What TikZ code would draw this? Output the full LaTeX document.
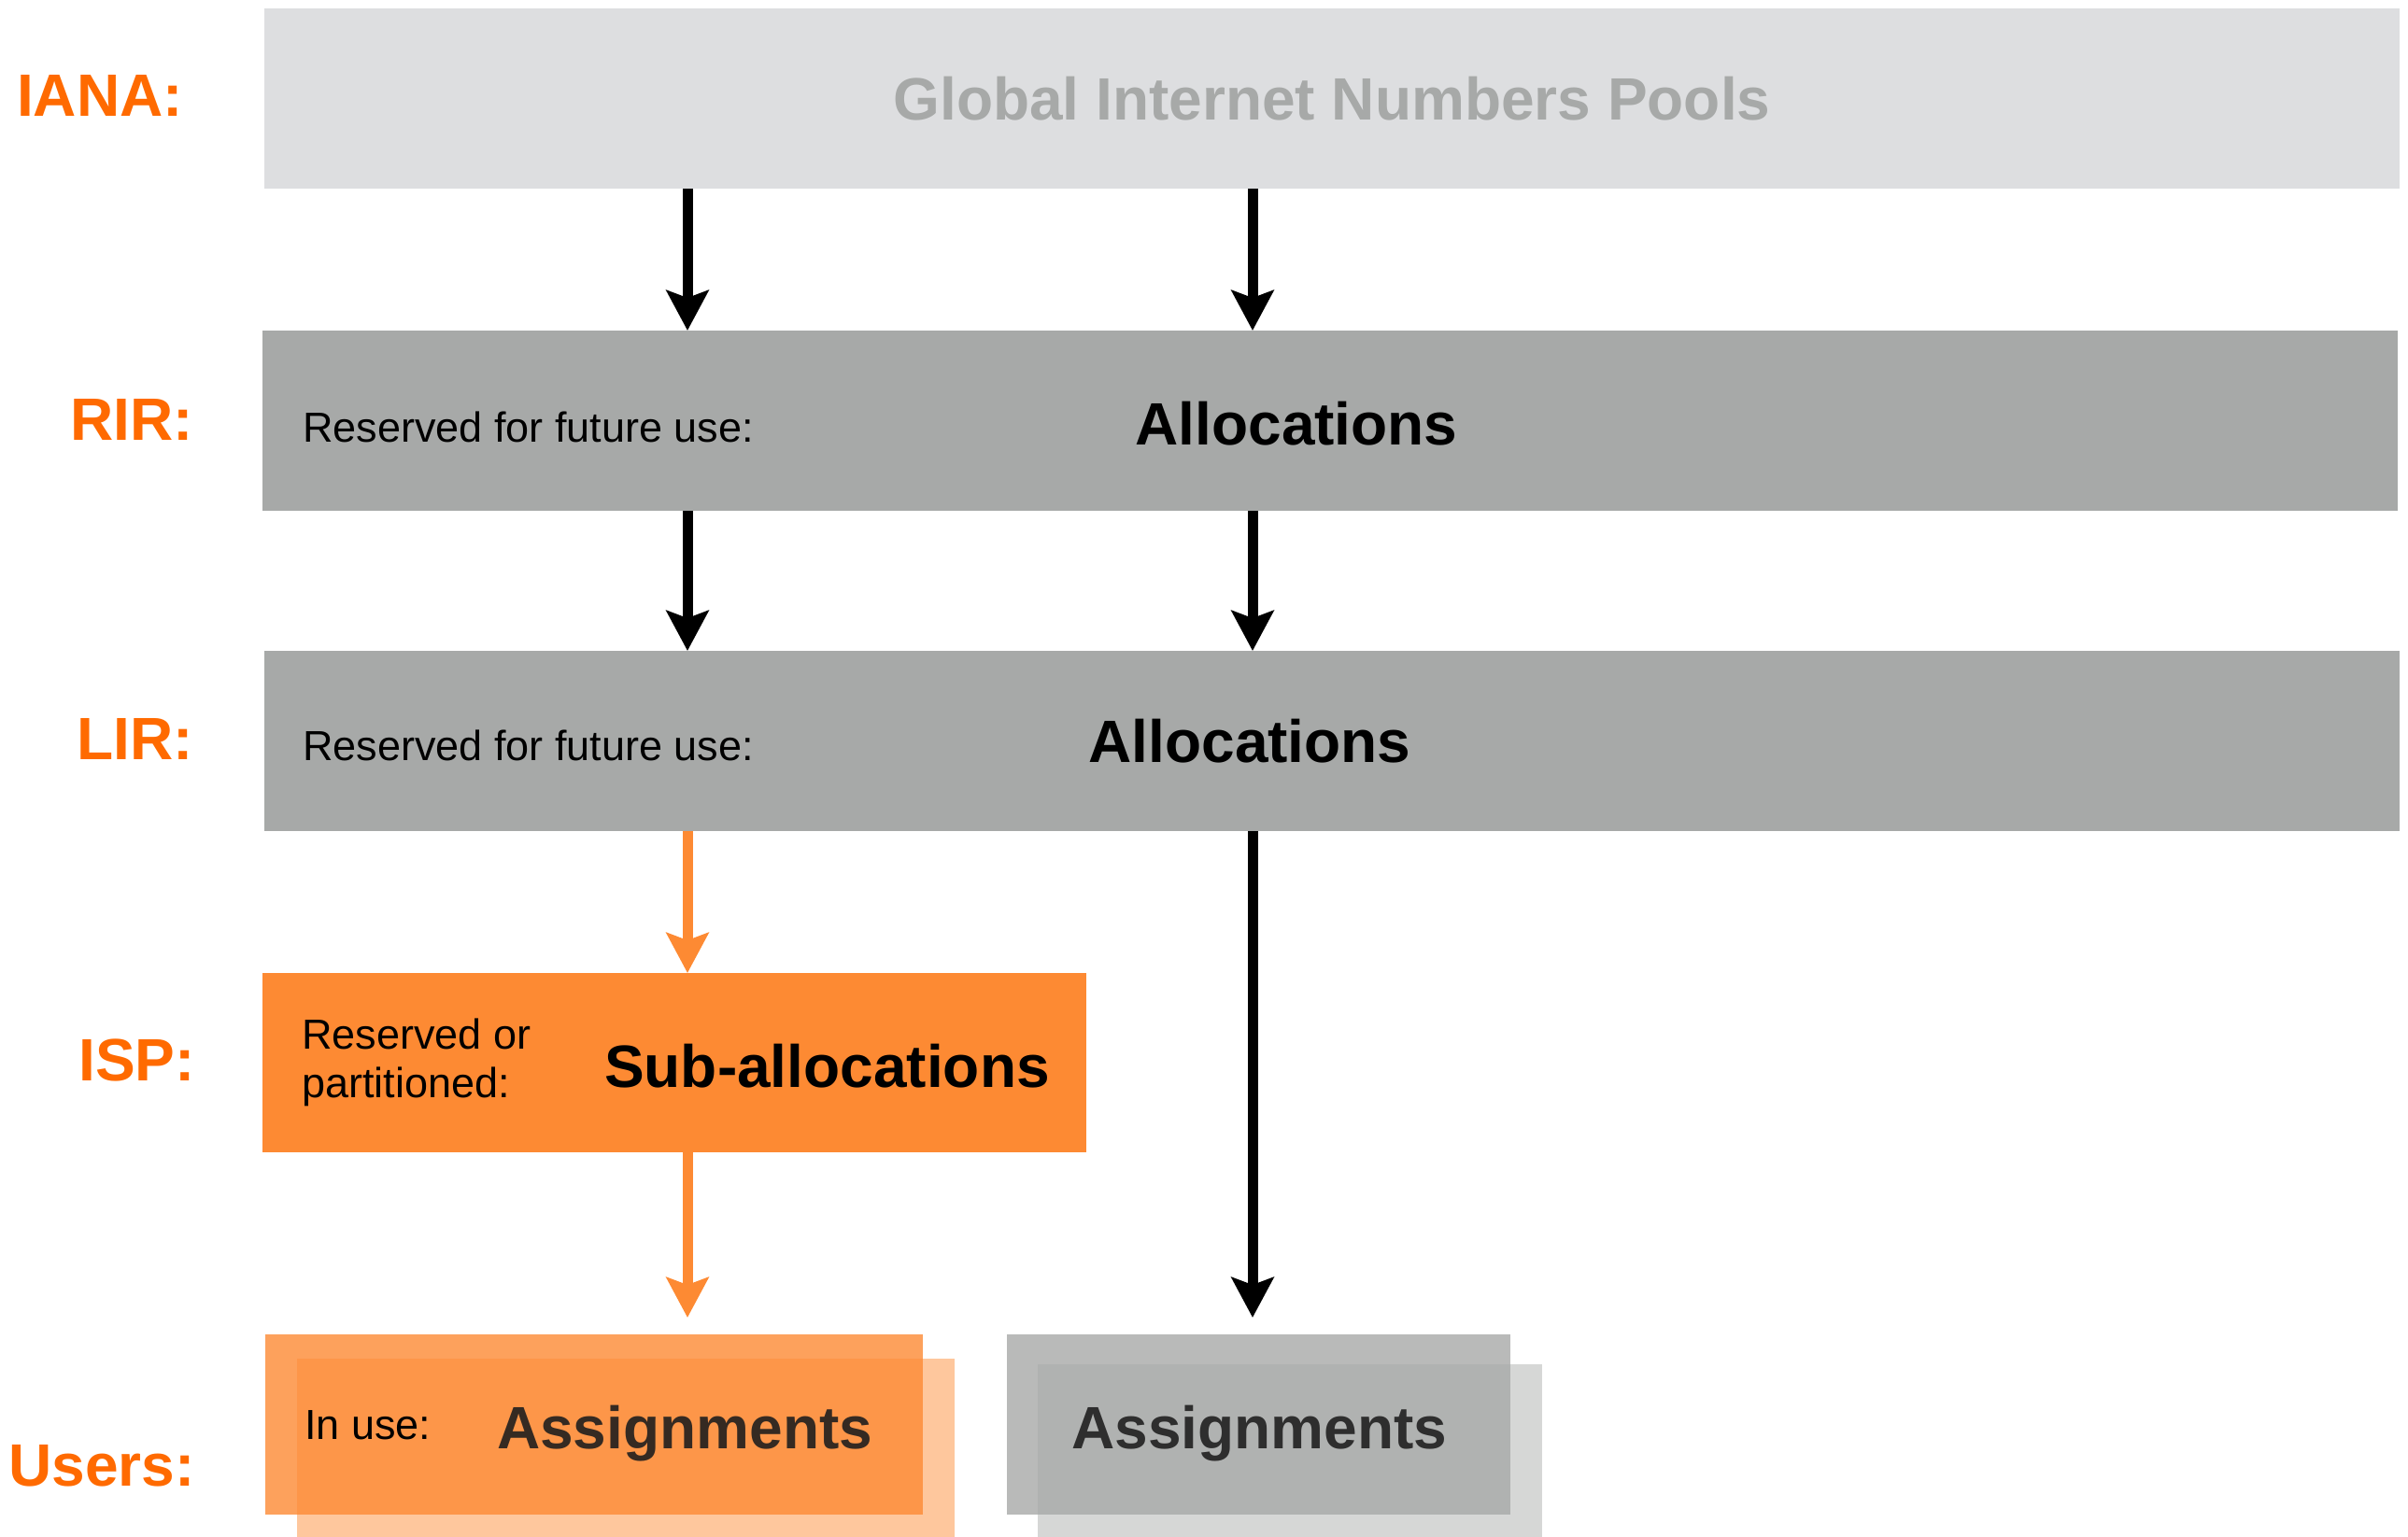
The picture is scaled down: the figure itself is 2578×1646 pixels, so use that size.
\documentclass[tikz,border=0pt]{standalone}
\usepackage{fontspec}
\setmainfont{Liberation Sans}
\usetikzlibrary{arrows.meta}
\definecolor{lbl}{RGB}{255,106,0}
\definecolor{ispor}{RGB}{253,138,51}
\definecolor{midgray}{RGB}{167,169,168}
\definecolor{lightgray}{RGB}{221,222,224}
\definecolor{txtor}{RGB}{53,42,34}
\definecolor{txtgr}{RGB}{46,46,46}
\begin{document}
\begin{tikzpicture}[x=1pt,y=-1pt,
  box/.style={draw=none, inner sep=0pt, outer sep=0pt, anchor=north west},
  lvl/.style={anchor=base east, inner sep=0pt, text=lbl, font=\fontsize{64}{70}\selectfont\bfseries},
  big/.style={inner sep=0pt, font=\fontsize{64}{70}\selectfont\bfseries},
  small/.style={inner sep=0pt, anchor=base west, font=\fontsize{45}{52}\selectfont},
  arr/.style={line width=11pt, -{Stealth[length=43pt,width=45pt,inset=8pt]}},
]
\useasboundingbox (0,0) rectangle (2578,1646);

% boxes
\node[box, fill=lightgray, minimum width=2286pt, minimum height=193pt] (iana) at (283,9) {};
\node[box, fill=midgray, minimum width=2286pt, minimum height=193pt] (rir) at (281,354) {};
\node[box, fill=midgray, minimum width=2286pt, minimum height=193pt] (lir) at (283,697) {};
\node[box, fill=ispor, minimum width=882pt, minimum height=192pt] (isp) at (281,1042) {};
\node[box, fill=ispor, fill opacity=0.48, minimum width=704pt, minimum height=191pt] (uob) at (318,1455) {};
\node[box, fill=ispor, fill opacity=0.8, minimum width=704pt, minimum height=193pt] (uof) at (284,1429) {};
\node[box, fill=midgray, fill opacity=0.47, minimum width=540pt, minimum height=185pt] (ugb) at (1111,1461) {};
\node[box, fill=midgray, fill opacity=0.8, minimum width=539pt, minimum height=193pt] (ugf) at (1078,1429) {};

% level labels
\node[lvl] (lIANA) at (196,124) {IANA:};
\node[lvl] (lRIR) at (207,471) {RIR:};
\node[lvl] (lLIR) at (207,813) {LIR:};
\node[lvl] (lISP) at (209,1157) {ISP:};
\node[lvl] (lUsers) at (209,1591) {Users:};

% texts
\node[big, anchor=base, text=midgray] (tg) at (1426,128) {Global Internet Numbers Pools};
\node[small] (t1) at (324,473) {Reserved for future use:};
\node[big, anchor=base] (t2) at (1388,476) {Allocations};
\node[small] (t3) at (324,814) {Reserved for future use:};
\node[big, anchor=base] (t4) at (1338,816) {Allocations};
\node[small] (t5) at (323,1123) {Reserved or};
\node[small] (t6) at (323,1175) {partitioned:};
\node[big, anchor=base west] (t7) at (647,1164) {Sub-allocations};
\node[small] (t8) at (326,1541) {In use:};
\node[big, anchor=base west, text=txtor] (t9) at (532,1551) {Assignments};
\node[big, anchor=base west, text=txtgr] (t10) at (1147,1551) {Assignments};

% arrows
\coordinate (c1) at (736,0);
\coordinate (c2) at (1341,0);
\draw[arr] (iana.south -| c1) -- (rir.north -| c1);
\draw[arr] (iana.south -| c2) -- (rir.north -| c2);
\draw[arr] (rir.south -| c1) -- (lir.north -| c1);
\draw[arr] (rir.south -| c2) -- (lir.north -| c2);
\draw[arr, color=ispor] (lir.south -| c1) -- (isp.north -| c1);
\draw[arr, color=ispor, shorten >=18pt] (isp.south -| c1) -- (uof.north -| c1);
\draw[arr, shorten >=18pt] (lir.south -| c2) -- (ugf.north -| c2);
\end{tikzpicture}
\end{document}
